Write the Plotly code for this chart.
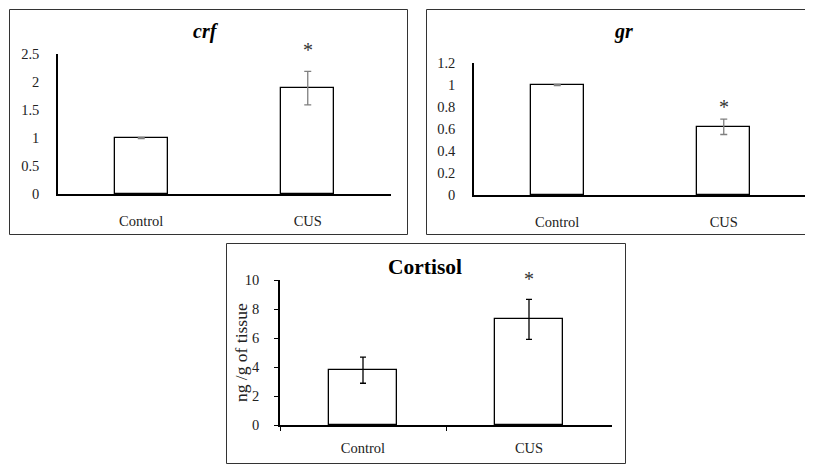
import plotly.graph_objects as go

# page body adds an 8px margin; the figure is sized/shifted to compensate
OFF = 8
W, H = 813 - OFF, 465 - OFF

categories = ["Control", "CUS"]

crf_values = [1.0, 1.89]
crf_err = [0.01, 0.30]
gr_values = [1.0, 0.62]
gr_err = [0.005, 0.07]
cort_values = [3.78, 7.28]
cort_err = [0.9, 1.38]

crf_ticks = [0, 0.5, 1, 1.5, 2, 2.5]
crf_ticktext = ["0", "0.5", "1", "1.5", "2", "2.5"]
gr_ticks = [0, 0.2, 0.4, 0.6, 0.8, 1.0, 1.2]
gr_ticktext = ["0", "0.2", "0.4", "0.6", "0.8", "1", "1.2"]
cort_ticks = [0, 2, 4, 6, 8, 10]

star_y = {"crf": 2.57, "gr": 0.80, "cort": 10.05}
y_max = {"crf": 2.5, "gr": 1.2, "cort": 10}

FONT = "Liberation Serif, Times New Roman, serif"


def px_x(v):
    return (v - OFF) / W


def px_y(v):
    return 1 - (v - OFF) / H


fig = go.Figure()

panels = [
    ("crf", crf_values, crf_err, "x", "y", 0.32, "#7f7f7f", 3.5),
    ("gr", gr_values, gr_err, "x2", "y2", 0.32, "#7f7f7f", 3.5),
    ("cort", cort_values, cort_err, "x3", "y3", 0.41, "#000000", 3),
]

for name, vals, err, xa, ya, bw, ec, cw in panels:
    fig.add_trace(go.Bar(
        x=categories, y=vals, xaxis=xa, yaxis=ya, width=bw,
        marker=dict(color="white", line=dict(color="black", width=1.3)),
        error_y=dict(type="data", array=err, visible=True, color=ec,
                     thickness=1.3, width=cw),
        showlegend=False, hoverinfo="skip",
    ))
    # significance asterisk over the CUS bar (domain-relative so it is not
    # hidden when it sits above the top of the axis range)
    fig.add_annotation(
        x="CUS", xref=xa, y=star_y[name] / y_max[name], yref=ya + " domain",
        text="*", showarrow=False, xanchor="center", yanchor="middle",
        font=dict(family=FONT, size=20, color="#333"))

tickfont = dict(family=FONT, size=14.5, color="#222")

common_x = dict(type="category", range=[-0.5, 1.5], showline=True,
                linecolor="black", linewidth=1.5, showgrid=False,
                zeroline=False, tickfont=tickfont, fixedrange=True,
                automargin=False)
common_y = dict(showline=True, linecolor="black", linewidth=1.5,
                showgrid=False, zeroline=False, tickfont=tickfont,
                fixedrange=True, automargin=False)

fig.update_layout(
    template="none",
    width=W, height=H, autosize=False,
    margin=dict(l=0, r=0, t=0, b=0, pad=0),
    font=dict(family=FONT, color="#222"),
    paper_bgcolor="white", plot_bgcolor="white",
    bargap=0,
    xaxis=dict(common_x, domain=[px_x(58), px_x(391)], anchor="y",
               ticks="", ticklabelstandoff=13),
    yaxis=dict(common_y, domain=[px_y(194), px_y(54)], anchor="x",
               range=[0, y_max["crf"]], tickvals=crf_ticks,
               ticktext=crf_ticktext, ticks="", ticklabelstandoff=14),
    xaxis2=dict(common_x, domain=[px_x(474), px_x(807)], anchor="y2",
                ticks="", ticklabelstandoff=13),
    yaxis2=dict(common_y, domain=[px_y(195), px_y(63)], anchor="x2",
                range=[0, y_max["gr"]], tickvals=gr_ticks,
                ticktext=gr_ticktext, ticks="", ticklabelstandoff=14),
    xaxis3=dict(common_x, domain=[px_x(280), px_x(612)], anchor="y3",
                ticks="outside", ticklen=4, tickcolor="black",
                tickson="boundaries", ticklabelstandoff=9),
    yaxis3=dict(common_y, domain=[px_y(425), px_y(280)], anchor="x3",
                range=[0, y_max["cort"]], tickvals=cort_ticks,
                ticks="outside", ticklen=4, tickcolor="black",
                ticklabelstandoff=12),
)

# y-axis title of the cortisol panel
fig.add_annotation(x=px_x(241), y=px_y(353), xref="paper", yref="paper",
                   xanchor="center", yanchor="middle", textangle=-90,
                   text="ng /g of tissue", showarrow=False,
                   font=dict(family=FONT, size=17.5, color="#222"))

# titles
fig.add_annotation(x=px_x(206), y=px_y(32), xref="paper", yref="paper",
                   xanchor="center", yanchor="middle",
                   text="<b><i>crf</i></b>", showarrow=False,
                   font=dict(family=FONT, size=20, color="black"))
fig.add_annotation(x=px_x(623), y=px_y(32), xref="paper", yref="paper",
                   xanchor="center", yanchor="middle",
                   text="<b><i>gr</i></b>", showarrow=False,
                   font=dict(family=FONT, size=20, color="black"))
fig.add_annotation(x=px_x(425), y=px_y(267), xref="paper", yref="paper",
                   xanchor="center", yanchor="middle",
                   text="<b>Cortisol</b>", showarrow=False,
                   font=dict(family=FONT, size=21.5, color="black"))

# panel frames
frame = dict(color="#333", width=1)
fig.add_shape(type="rect", xref="paper", yref="paper",
              x0=px_x(9.5), x1=px_x(407.5), y0=px_y(234.5), y1=px_y(9.5),
              line=frame)
for (x0, y0, x1, y1) in [(426.5, 9.5, 813, 9.5), (426.5, 9.5, 426.5, 234.5),
                         (426.5, 234.5, 813, 234.5)]:
    fig.add_shape(type="line", xref="paper", yref="paper",
                  x0=px_x(x0), x1=px_x(x1), y0=px_y(y0), y1=px_y(y1),
                  line=frame)
fig.add_shape(type="rect", xref="paper", yref="paper",
              x0=px_x(226.5), x1=px_x(625.5), y0=px_y(463.5), y1=px_y(243.5),
              line=frame)

fig.write_html("out.html")
